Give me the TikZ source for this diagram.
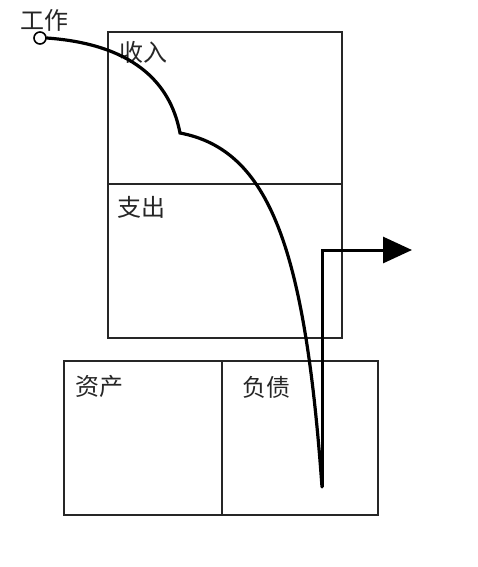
\documentclass[tikz,border=0pt]{standalone}
\usepackage{fontspec}
\newfontfamily\cjk{Noto Sans CJK SC}
\usetikzlibrary{arrows.meta}
\begin{document}
\begin{tikzpicture}[x=1pt,y=-1pt,
  boxline/.style={draw=black!85,line width=1.7pt},
  lbl/.style={font=\cjk\fontsize{24}{24}\selectfont,inner sep=0pt,text=black!85},
  flow/.style={draw=black,line width=3.2pt}]
\useasboundingbox (0,0) rectangle (478,567);
% boxes
\coordinate (tl) at (108,32);
\coordinate (br) at (342,338);
\draw[boxline] (tl) rectangle (br);
\coordinate (d1) at (108,184);
\coordinate (d2) at (342,184);
\draw[boxline] (d1) -- (d2);
\coordinate (btl) at (64,361);
\coordinate (bbr) at (378,515);
\draw[boxline] (btl) rectangle (bbr);
\coordinate (bd1) at (222,361);
\coordinate (bd2) at (222,515);
\draw[boxline] (bd1) -- (bd2);
% labels
\node[lbl] (work) at (44,20) {工作};
\node[lbl] (inc) at (143,52) {收入};
\node[lbl] (exp) at (141,207) {支出};
\node[lbl] (ast) at (99,386) {资产};
\node[lbl] (liab) at (266,387) {负债};
% start circle
\node[circle,draw,line width=1.6pt,minimum size=12pt,inner sep=0pt,fill=white] (start) at (40,38) {};
% flow curve
\coordinate (kink) at (180,133);
\coordinate (tip) at (322,487);
\coordinate (corner) at (322,250);
\coordinate (arrowend) at (412,250);
\draw[flow,line cap=round] (start.east) .. controls (130,44) and (170,80) .. (kink)
  .. controls (270,150) and (305,250) .. (tip);
\draw[flow,line width=3pt,-{Triangle[length=29pt,width=26pt]}] (tip) -- (corner) -- (arrowend);
\end{tikzpicture}
\end{document}
